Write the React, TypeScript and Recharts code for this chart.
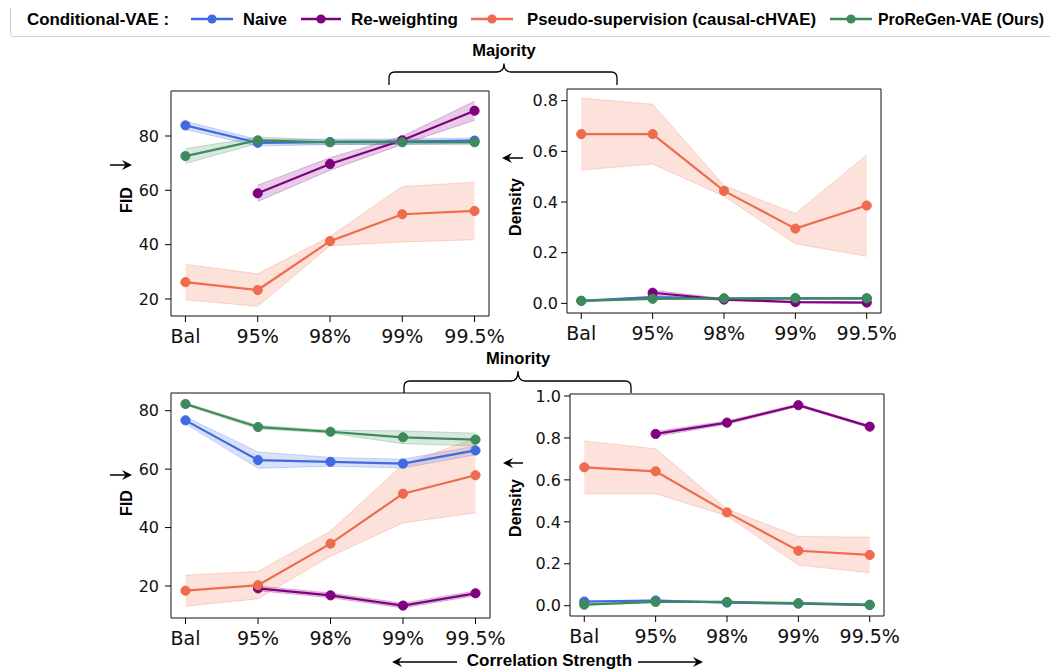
import React from 'react';
import { ComposedChart, Line, Area, XAxis, YAxis, ReferenceArea } from 'recharts';

// Correlation strength levels on the x axis
const xLabels = ['Bal', '95%', '98%', '99%', '99.5%'];
const xIndex = [0, 1, 2, 3, 4];

const seriesNames = ['Naive', 'Re-weighting', 'Pseudo-supervision (causal-cHVAE)', 'ProReGen-VAE (Ours)'];
const seriesColors = ['#4169E1', '#800080', '#EE6C4D', '#3D8A5A'];

// Majority group — FID (mean and std over runs)
const majFidNaive = [83.9, 77.5, 77.8, 77.9, 78.3];
const majFidNaiveSd = [1.5, 1.2, 1.0, 1.0, 1.0];
const majFidReweight = [null, 58.9, 69.7, 78.4, 89.3];
const majFidReweightSd = [null, 3.0, 2.3, 1.5, 3.5];
const majFidPseudo = [26.2, 23.3, 41.3, 51.2, 52.4];
const majFidPseudoSd = [6.5, 6.0, 1.7, 10.2, 10.6];
const majFidProregen = [72.6, 78.4, 77.7, 77.7, 77.7];
const majFidProregenSd = [2.7, 1.2, 0.8, 0.8, 0.8];

// Majority group — Density
const majDenNaive = [0.010, 0.025, 0.018, 0.020, 0.020];
const majDenNaiveSd = [0.002, 0.003, 0.002, 0.002, 0.002];
const majDenReweight = [null, 0.042, 0.015, 0.005, 0.003];
const majDenReweightSd = [null, 0.010, 0.004, 0.002, 0.002];
const majDenPseudo = [0.668, 0.668, 0.444, 0.295, 0.386];
const majDenPseudoSd = [0.142, 0.118, 0.021, 0.060, 0.200];
const majDenProregen = [0.010, 0.018, 0.020, 0.020, 0.020];
const majDenProregenSd = [0.002, 0.002, 0.002, 0.002, 0.002];

// Minority group — FID
const minFidNaive = [76.7, 63.1, 62.5, 61.9, 66.4];
const minFidNaiveSd = [1.2, 2.8, 1.5, 1.5, 1.5];
const minFidReweight = [null, 19.2, 16.8, 13.3, 17.5];
const minFidReweightSd = [null, 0.8, 0.8, 0.8, 0.8];
const minFidPseudo = [18.4, 20.3, 34.5, 51.6, 57.9];
const minFidPseudoSd = [5.3, 4.7, 4.3, 10.0, 12.8];
const minFidProregen = [82.3, 74.4, 72.8, 70.9, 70.1];
const minFidProregenSd = [0.4, 0.6, 0.5, 2.2, 2.2];

// Minority group — Density
const minDenNaive = [0.020, 0.025, 0.015, 0.010, 0.003];
const minDenNaiveSd = [0.003, 0.003, 0.003, 0.003, 0.003];
const minDenReweight = [null, 0.819, 0.873, 0.956, 0.854];
const minDenReweightSd = [null, 0.012, 0.008, 0.006, 0.006];
const minDenPseudo = [0.660, 0.641, 0.445, 0.262, 0.242];
const minDenPseudoSd = [0.126, 0.107, 0.016, 0.068, 0.085];
const minDenProregen = [0.005, 0.018, 0.018, 0.012, 0.005];
const minDenProregenSd = [0.003, 0.003, 0.003, 0.003, 0.003];

const fidTicks = [20, 40, 60, 80];
const majDenTicks = [0, 0.2, 0.4, 0.6, 0.8];
const minDenTicks = [0, 0.2, 0.4, 0.6, 0.8, 1.0];

const X_DOMAIN: [number, number] = [-0.2, 4.2];
const PAGE = 8; // body margin

type Vals = (number | null)[];

interface PanelProps {
  left: number;
  top: number;
  width: number;
  height: number;
  domain: [number, number];
  ticks: number[];
  fmt: (v: number) => string;
  means: Vals[];
  sds: Vals[];
  yTickMargin: number;
}

function Panel({ left, top, width, height, domain, ticks, fmt, means, sds, yTickMargin }: PanelProps) {
  const rows = xIndex.map((x, i) => {
    const row: Record<string, any> = { x };
    means.forEach((m, s) => {
      const v = m[i];
      const sd = sds[s][i];
      row[`m${s}`] = v;
      row[`b${s}`] = v == null || sd == null ? null : [v - sd, v + sd];
    });
    return row;
  });
  const mL = 70;
  const mT = 10;
  const mR = 40;
  const mB = 50;
  return (
    <div style={{ position: 'absolute', left: left - mL - PAGE, top: top - mT - PAGE }}>
      <ComposedChart
        width={width + mL + mR}
        height={height + mT + mB}
        data={rows}
        margin={{ top: mT, right: mR, left: 0, bottom: 0 }}
      >
        <XAxis
          type="number"
          dataKey="x"
          domain={X_DOMAIN}
          ticks={xIndex}
          interval={0}
          allowDataOverflow
          tickFormatter={(v: number) => xLabels[v]}
          height={mB}
          axisLine={false}
          tickSize={6}
          tickMargin={8}
          tickLine={{ stroke: '#000' }}
          tick={{ fontSize: 19, fill: '#111', fontFamily: 'DejaVu Sans' }}
        />
        <YAxis
          type="number"
          domain={domain}
          ticks={ticks}
          interval={0}
          allowDataOverflow
          tickFormatter={fmt}
          width={mL}
          axisLine={false}
          tickSize={6}
          tickMargin={yTickMargin}
          tickLine={{ stroke: '#000' }}
          tick={{ fontSize: 16, fill: '#111', fontFamily: 'DejaVu Sans' }}
        />
        {means.map((_, s) => (
          <Area
            key={`a${s}`}
            type="linear"
            dataKey={`b${s}`}
            stroke={seriesColors[s]}
            strokeOpacity={0.25}
            strokeWidth={1}
            fill={seriesColors[s]}
            fillOpacity={0.2}
            dot={false}
            activeDot={false}
            isAnimationActive={false}
          />
        ))}
        {means.map((_, s) => (
          <Line
            key={`l${s}`}
            type="linear"
            dataKey={`m${s}`}
            name={seriesNames[s]}
            stroke={seriesColors[s]}
            strokeWidth={2.2}
            dot={{ r: 4.6, fill: seriesColors[s], stroke: seriesColors[s], strokeWidth: 1 }}
            activeDot={false}
            isAnimationActive={false}
          />
        ))}
        <ReferenceArea
          x1={X_DOMAIN[0]}
          x2={X_DOMAIN[1]}
          y1={domain[0]}
          y2={domain[1]}
          fill="none"
          stroke="#111"
          strokeWidth={1}
          ifOverflow="visible"
        />
      </ComposedChart>
    </div>
  );
}

function RightArrow({ x1, x2, y, w = 1.5 }: { x1: number; x2: number; y: number; w?: number }) {
  return (
    <g>
      <line x1={x1} y1={y} x2={x2 - 4} y2={y} stroke="#000" strokeWidth={w} />
      <path d={`M ${x2} ${y} L ${x2 - 10} ${y - 5} L ${x2 - 6.5} ${y} L ${x2 - 10} ${y + 5} Z`} fill="#000" />
    </g>
  );
}

function LeftArrow({ x1, x2, y, w = 1.5 }: { x1: number; x2: number; y: number; w?: number }) {
  return (
    <g>
      <line x1={x1 + 4} y1={y} x2={x2} y2={y} stroke="#000" strokeWidth={w} />
      <path d={`M ${x1} ${y} L ${x1 + 10} ${y - 5} L ${x1 + 6.5} ${y} L ${x1 + 10} ${y + 5} Z`} fill="#000" />
    </g>
  );
}

function Brace({ x1, x2, xm, yTop, yTip, yEnd }: { x1: number; x2: number; xm: number; yTop: number; yTip: number; yEnd: number }) {
  const r = 6;
  const d = [
    `M ${x1} ${yEnd}`,
    `L ${x1} ${yTop + r}`,
    `Q ${x1} ${yTop} ${x1 + r} ${yTop}`,
    `L ${xm - 7} ${yTop}`,
    `Q ${xm} ${yTop} ${xm} ${yTip}`,
    `Q ${xm} ${yTop} ${xm + 7} ${yTop}`,
    `L ${x2 - r} ${yTop}`,
    `Q ${x2} ${yTop} ${x2} ${yTop + r}`,
    `L ${x2} ${yEnd}`,
  ].join(' ');
  return <path d={d} fill="none" stroke="#000" strokeWidth={1.3} />;
}

const legendItems = [
  { line: [191, 233], textX: 243, len: 44 },
  { line: [301, 341], textX: 351, len: 107 },
  { line: [471, 513], textX: 527, len: 289 },
  { line: [830, 872], textX: 878, len: 166 },
];

const boldFont = 'Liberation Sans, Arial, Helvetica, sans-serif';

export default function App() {
  return (
    <div style={{ position: 'relative', width: 1050, height: 663 }}>
      <Panel
        left={171}
        top={91}
        width={318}
        height={225}
        domain={[13.74, 96.56]}
        ticks={fidTicks}
        fmt={(v) => String(v)}
        means={[majFidNaive, majFidReweight, majFidPseudo, majFidProregen]}
        sds={[majFidNaiveSd, majFidReweightSd, majFidPseudoSd, majFidProregenSd]}
        yTickMargin={6}
      />
      <Panel
        left={567}
        top={89}
        width={314}
        height={224}
        domain={[-0.038, 0.846]}
        ticks={majDenTicks}
        fmt={(v) => v.toFixed(1)}
        means={[majDenNaive, majDenReweight, majDenPseudo, majDenProregen]}
        sds={[majDenNaiveSd, majDenReweightSd, majDenPseudoSd, majDenProregenSd]}
        yTickMargin={3}
      />
      <Panel
        left={171}
        top={393}
        width={319}
        height={225}
        domain={[9.05, 86.06]}
        ticks={fidTicks}
        fmt={(v) => String(v)}
        means={[minFidNaive, minFidReweight, minFidPseudo, minFidProregen]}
        sds={[minFidNaiveSd, minFidReweightSd, minFidPseudoSd, minFidProregenSd]}
        yTickMargin={6}
      />
      <Panel
        left={570}
        top={394}
        width={314}
        height={222}
        domain={[-0.049, 1.0095]}
        ticks={minDenTicks}
        fmt={(v) => v.toFixed(1)}
        means={[minDenNaive, minDenReweight, minDenPseudo, minDenProregen]}
        sds={[minDenNaiveSd, minDenReweightSd, minDenPseudoSd, minDenProregenSd]}
        yTickMargin={3}
      />
      <svg
        width={1050}
        height={663}
        style={{ position: 'absolute', left: 0, top: 0, pointerEvents: 'none' }}
      >
        <g transform={`translate(${-PAGE}, ${-PAGE})`}>
          {/* legend */}
          <rect x={10.5} y={2.5} width={1045} height={34} rx={3} fill="#fff" stroke="#cfcfcf" strokeWidth={1} />
          <text x={27} y={25} fontFamily={boldFont} fontWeight="bold" fontSize={16.5} textLength={142} lengthAdjust="spacingAndGlyphs" fill="#000">
            Conditional-VAE :
          </text>
          {legendItems.map((it, i) => (
            <g key={i}>
              <line x1={it.line[0]} y1={19} x2={it.line[1]} y2={19} stroke={seriesColors[i]} strokeWidth={2.5} />
              <circle cx={(it.line[0] + it.line[1]) / 2} cy={19} r={4.6} fill={seriesColors[i]} />
              <text x={it.textX} y={25} fontFamily={boldFont} fontWeight="bold" fontSize={16.5} textLength={it.len} lengthAdjust="spacingAndGlyphs" fill="#000">
                {seriesNames[i]}
              </text>
            </g>
          ))}

          {/* group headers */}
          <text x={504} y={56} textAnchor="middle" fontFamily={boldFont} fontWeight="bold" fontSize={16.5} fill="#000">
            Majority
          </text>
          <Brace x1={389} x2={617} xm={504} yTop={72} yTip={63.5} yEnd={85} />
          <text x={518} y={364} textAnchor="middle" fontFamily={boldFont} fontWeight="bold" fontSize={16.5} fill="#000">
            Minority
          </text>
          <Brace x1={404} x2={631} xm={518} yTop={381} yTip={371} yEnd={393} />

          {/* axis titles */}
          <RightArrow x1={110} x2={132} y={165} />
          <text transform="translate(126, 200) rotate(-90)" textAnchor="middle" dominantBaseline="central" fontFamily={boldFont} fontWeight="bold" fontSize={16} fill="#000">
            FID
          </text>
          <RightArrow x1={110} x2={132} y={475} />
          <text transform="translate(126, 503) rotate(-90)" textAnchor="middle" dominantBaseline="central" fontFamily={boldFont} fontWeight="bold" fontSize={16} fill="#000">
            FID
          </text>
          <LeftArrow x1={502} x2={523} y={158} />
          <text transform="translate(515, 207) rotate(-90)" textAnchor="middle" dominantBaseline="central" fontFamily={boldFont} fontWeight="bold" fontSize={16} fill="#000">
            Density
          </text>
          <LeftArrow x1={503} x2={523} y={463} />
          <text transform="translate(515, 508) rotate(-90)" textAnchor="middle" dominantBaseline="central" fontFamily={boldFont} fontWeight="bold" fontSize={16} fill="#000">
            Density
          </text>

          <LeftArrow x1={392} x2={457} y={662} w={1.3} />
          <text x={549.5} y={666} textAnchor="middle" fontFamily={boldFont} fontWeight="bold" fontSize={17} fill="#000">
            Correlation Strength
          </text>
          <RightArrow x1={638} x2={703} y={662} w={1.3} />
        </g>
      </svg>
    </div>
  );
}
